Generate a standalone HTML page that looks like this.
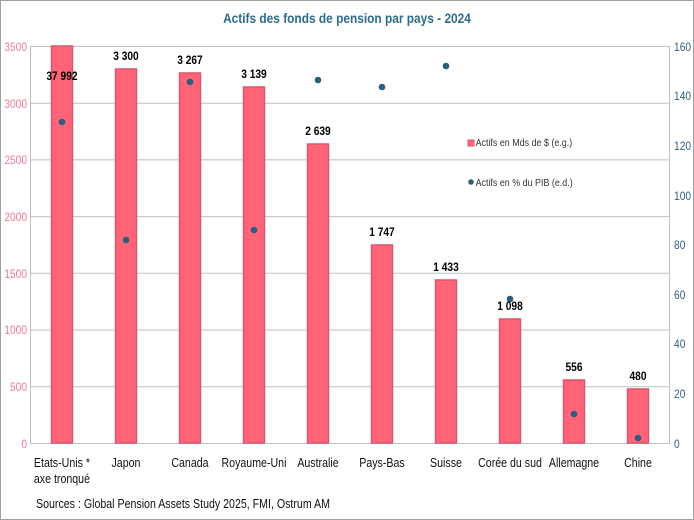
<!DOCTYPE html>
<html><head><meta charset="utf-8"><style>
html,body{margin:0;padding:0;background:#fff}
svg{display:block;font-family:"Liberation Sans",sans-serif}
</style></head><body>
<svg width="694" height="520" viewBox="0 0 694 520">
<rect x="0.5" y="0.5" width="693" height="519" fill="#fff" stroke="#a0a0a0"/>
<text x="347" y="23" text-anchor="middle" font-size="14" font-weight="bold" fill="#2e6a8c" transform="translate(347,0) scale(0.85,1) translate(-347,0)">Actifs des fonds de pension par pays - 2024</text>
<g stroke="#c0c0c0" stroke-width="1">
<line x1="30" y1="46.5" x2="669" y2="46.5"/>
<line x1="30" y1="103.2" x2="669" y2="103.2"/>
<line x1="30" y1="159.9" x2="669" y2="159.9"/>
<line x1="30" y1="216.6" x2="669" y2="216.6"/>
<line x1="30" y1="273.3" x2="669" y2="273.3"/>
<line x1="30" y1="330" x2="669" y2="330"/>
<line x1="30" y1="386.7" x2="669" y2="386.7"/>
<line x1="30" y1="443.5" x2="669" y2="443.5"/>
<line x1="30.5" y1="46" x2="30.5" y2="444"/>
<line x1="669.5" y1="46" x2="669.5" y2="444"/>
</g>
<g transform="scale(0.85,1)">
<g font-size="12" fill="#f07a90" text-anchor="end">
<text x="31.8" y="51">3500</text><text x="31.8" y="108">3000</text><text x="31.8" y="164">2500</text><text x="31.8" y="221">2000</text><text x="31.8" y="278">1500</text><text x="31.8" y="334">1000</text><text x="31.8" y="391">500</text><text x="31.8" y="448">0</text>
</g>
<g font-size="12" fill="#2e5f7e" text-anchor="start">
<text x="793" y="51">160</text><text x="793" y="100">140</text><text x="793" y="150">120</text><text x="793" y="200">100</text><text x="793" y="249">80</text><text x="793" y="299">60</text><text x="793" y="348">40</text><text x="793" y="398">20</text><text x="793" y="448">0</text>
</g>
</g>
<g fill="#ff6479" stroke="#d9566d" stroke-width="1.5">
<rect x="51.5" y="46" width="21" height="397"/>
<rect x="115.5" y="69" width="21" height="374"/>
<rect x="179.5" y="73" width="21" height="370"/>
<rect x="243.5" y="87" width="21" height="356"/>
<rect x="307.5" y="144" width="21" height="299"/>
<rect x="371.5" y="245" width="21" height="198"/>
<rect x="435.5" y="280" width="21" height="163"/>
<rect x="499.5" y="319" width="21" height="124"/>
<rect x="563.5" y="380" width="21" height="63"/>
<rect x="627.5" y="389" width="21" height="54"/>
</g>
<g fill="#2a5f80">
<circle cx="62" cy="122" r="3.3"/><circle cx="126" cy="240" r="3.3"/><circle cx="190" cy="82" r="3.3"/><circle cx="254" cy="230" r="3.3"/><circle cx="318" cy="80" r="3.3"/><circle cx="382" cy="87" r="3.3"/><circle cx="446" cy="66" r="3.3"/><circle cx="510" cy="299" r="3.3"/><circle cx="574" cy="414" r="3.3"/><circle cx="638" cy="438" r="3.3"/>
</g>
<rect x="468" y="140" width="6" height="6" fill="#ff6479" stroke="#d9566d"/>
<circle cx="471" cy="182" r="2.8" fill="#2a5f80"/>
<g transform="scale(0.85,1)">
<g font-size="12" font-weight="bold" fill="#000" text-anchor="middle">
<text x="72.9" y="80">37 992</text><text x="148.2" y="60">3 300</text><text x="223.5" y="64">3 267</text><text x="298.8" y="78">3 139</text><text x="374.1" y="135">2 639</text><text x="449.4" y="236">1 747</text><text x="524.7" y="271">1 433</text><text x="600" y="310">1 098</text><text x="675.3" y="371">556</text><text x="750.6" y="380">480</text>
</g>
<text x="559.5" y="146" font-size="10.5" fill="#333">Actifs en Mds de $ (e.g.)</text>
<text x="559.5" y="186" font-size="10.5" fill="#333">Actifs en % du PIB (e.d.)</text>
<g font-size="12.5" fill="#111" text-anchor="middle">
<text x="72.9" y="467">Etats-Unis *</text><text x="72.9" y="483">axe tronqué</text>
<text x="148.2" y="467">Japon</text><text x="223.5" y="467">Canada</text><text x="298.8" y="467">Royaume-Uni</text><text x="374.1" y="467">Australie</text><text x="449.4" y="467">Pays-Bas</text><text x="524.7" y="467">Suisse</text><text x="600" y="467">Corée du sud</text><text x="675.3" y="467">Allemagne</text><text x="750.6" y="467">Chine</text>
</g>
<text x="42.4" y="508" font-size="12.5" fill="#111">Sources : Global Pension Assets Study 2025, FMI, Ostrum AM</text>
</g>
</svg>
</body></html>
